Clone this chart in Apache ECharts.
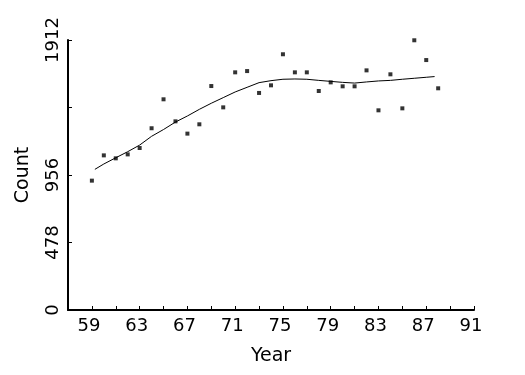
<!DOCTYPE html>
<html>
<head>
<meta charset="utf-8">
<script src="https://cdn.jsdelivr.net/npm/echarts@6/dist/echarts.min.js"></script>
<style>
html,body{margin:0;padding:0;background:#fff;}
#chart{width:525px;height:375px;}
</style>
</head>
<body>
<div id="chart"></div>
<script>
var years = [59,60,61,62,63,64,65,66,67,68,69,70,71,72,73,74,75,76,77,78,79,80,81,82,83,84,85,86,87,88];
var counts = [916,1095,1074,1102,1147,1287,1492,1336,1249,1315,1586,1435,1683,1692,1537,1591,1811,1683,1683,1551,1612,1584,1584,1697,1414,1669,1428,1910,1770,1570];
var smoothYears = [59.25,60,61,62,63,64,65,66,67,68,69,70,71,72,73,74,75,76,77,78,79,80,81,82,83,84,85,86,87,87.7];
var smoothCounts = [996,1034,1078,1121,1168,1230,1278,1331,1374,1421,1464,1504,1544,1577,1610,1624,1634,1636,1634,1626,1619,1612,1607,1615,1622,1626,1634,1641,1648,1653];
var yTicks = [0,478,956,1434,1912];
var yTickLabels = ['0','478','956','','1912'];
var xLabelYears = [59,63,67,71,75,79,83,87,91];

var font = 'DejaVu Sans';
var chart = echarts.init(document.getElementById('chart'));
chart.setOption({
  animation: false,
  backgroundColor: '#fff',
  grid: {left: 68, right: 51, top: 40, bottom: 65},
  xAxis: {
    type: 'value', min: 57, max: 91, interval: 2,
    name: 'Year', nameLocation: 'middle', nameGap: 37,
    nameTextStyle: {color: '#000', fontSize: 19, fontFamily: font},
    axisLine: {lineStyle: {color: '#000', width: 2}},
    axisTick: {inside: true, length: 4, lineStyle: {color: '#000'}},
    axisLabel: {color: '#000', fontSize: 18, fontFamily: font, margin: 7, padding: [0, 6, 0, 0],
      formatter: function(v){ return xLabelYears.indexOf(v) >= 0 ? String(v) : ''; }},
    splitLine: {show: false}
  },
  yAxis: {
    type: 'value', min: 0, max: 1912, interval: 478,
    name: 'Count', nameLocation: 'middle', nameGap: 35,
    nameTextStyle: {color: '#000', fontSize: 19, fontFamily: font},
    axisLine: {lineStyle: {color: '#000', width: 2}},
    axisTick: {inside: true, length: 4, lineStyle: {color: '#000'}},
    axisLabel: {color: '#000', fontSize: 18, fontFamily: font, rotate: 90, margin: 6,
      formatter: function(v){ var i = yTicks.indexOf(v); return i >= 0 ? yTickLabels[i] : ''; }},
    splitLine: {show: false}
  },
  series: [
    {
      type: 'scatter', symbol: 'rect', symbolSize: 4,
      itemStyle: {color: '#000'},
      data: years.map(function(y, i){ return [y, counts[i]]; })
    },
    {
      type: 'line', symbol: 'none', smooth: false,
      lineStyle: {color: '#000', width: 1},
      data: smoothYears.map(function(y, i){ return [y, smoothCounts[i]]; })
    }
  ]
});
</script>
</body>
</html>
